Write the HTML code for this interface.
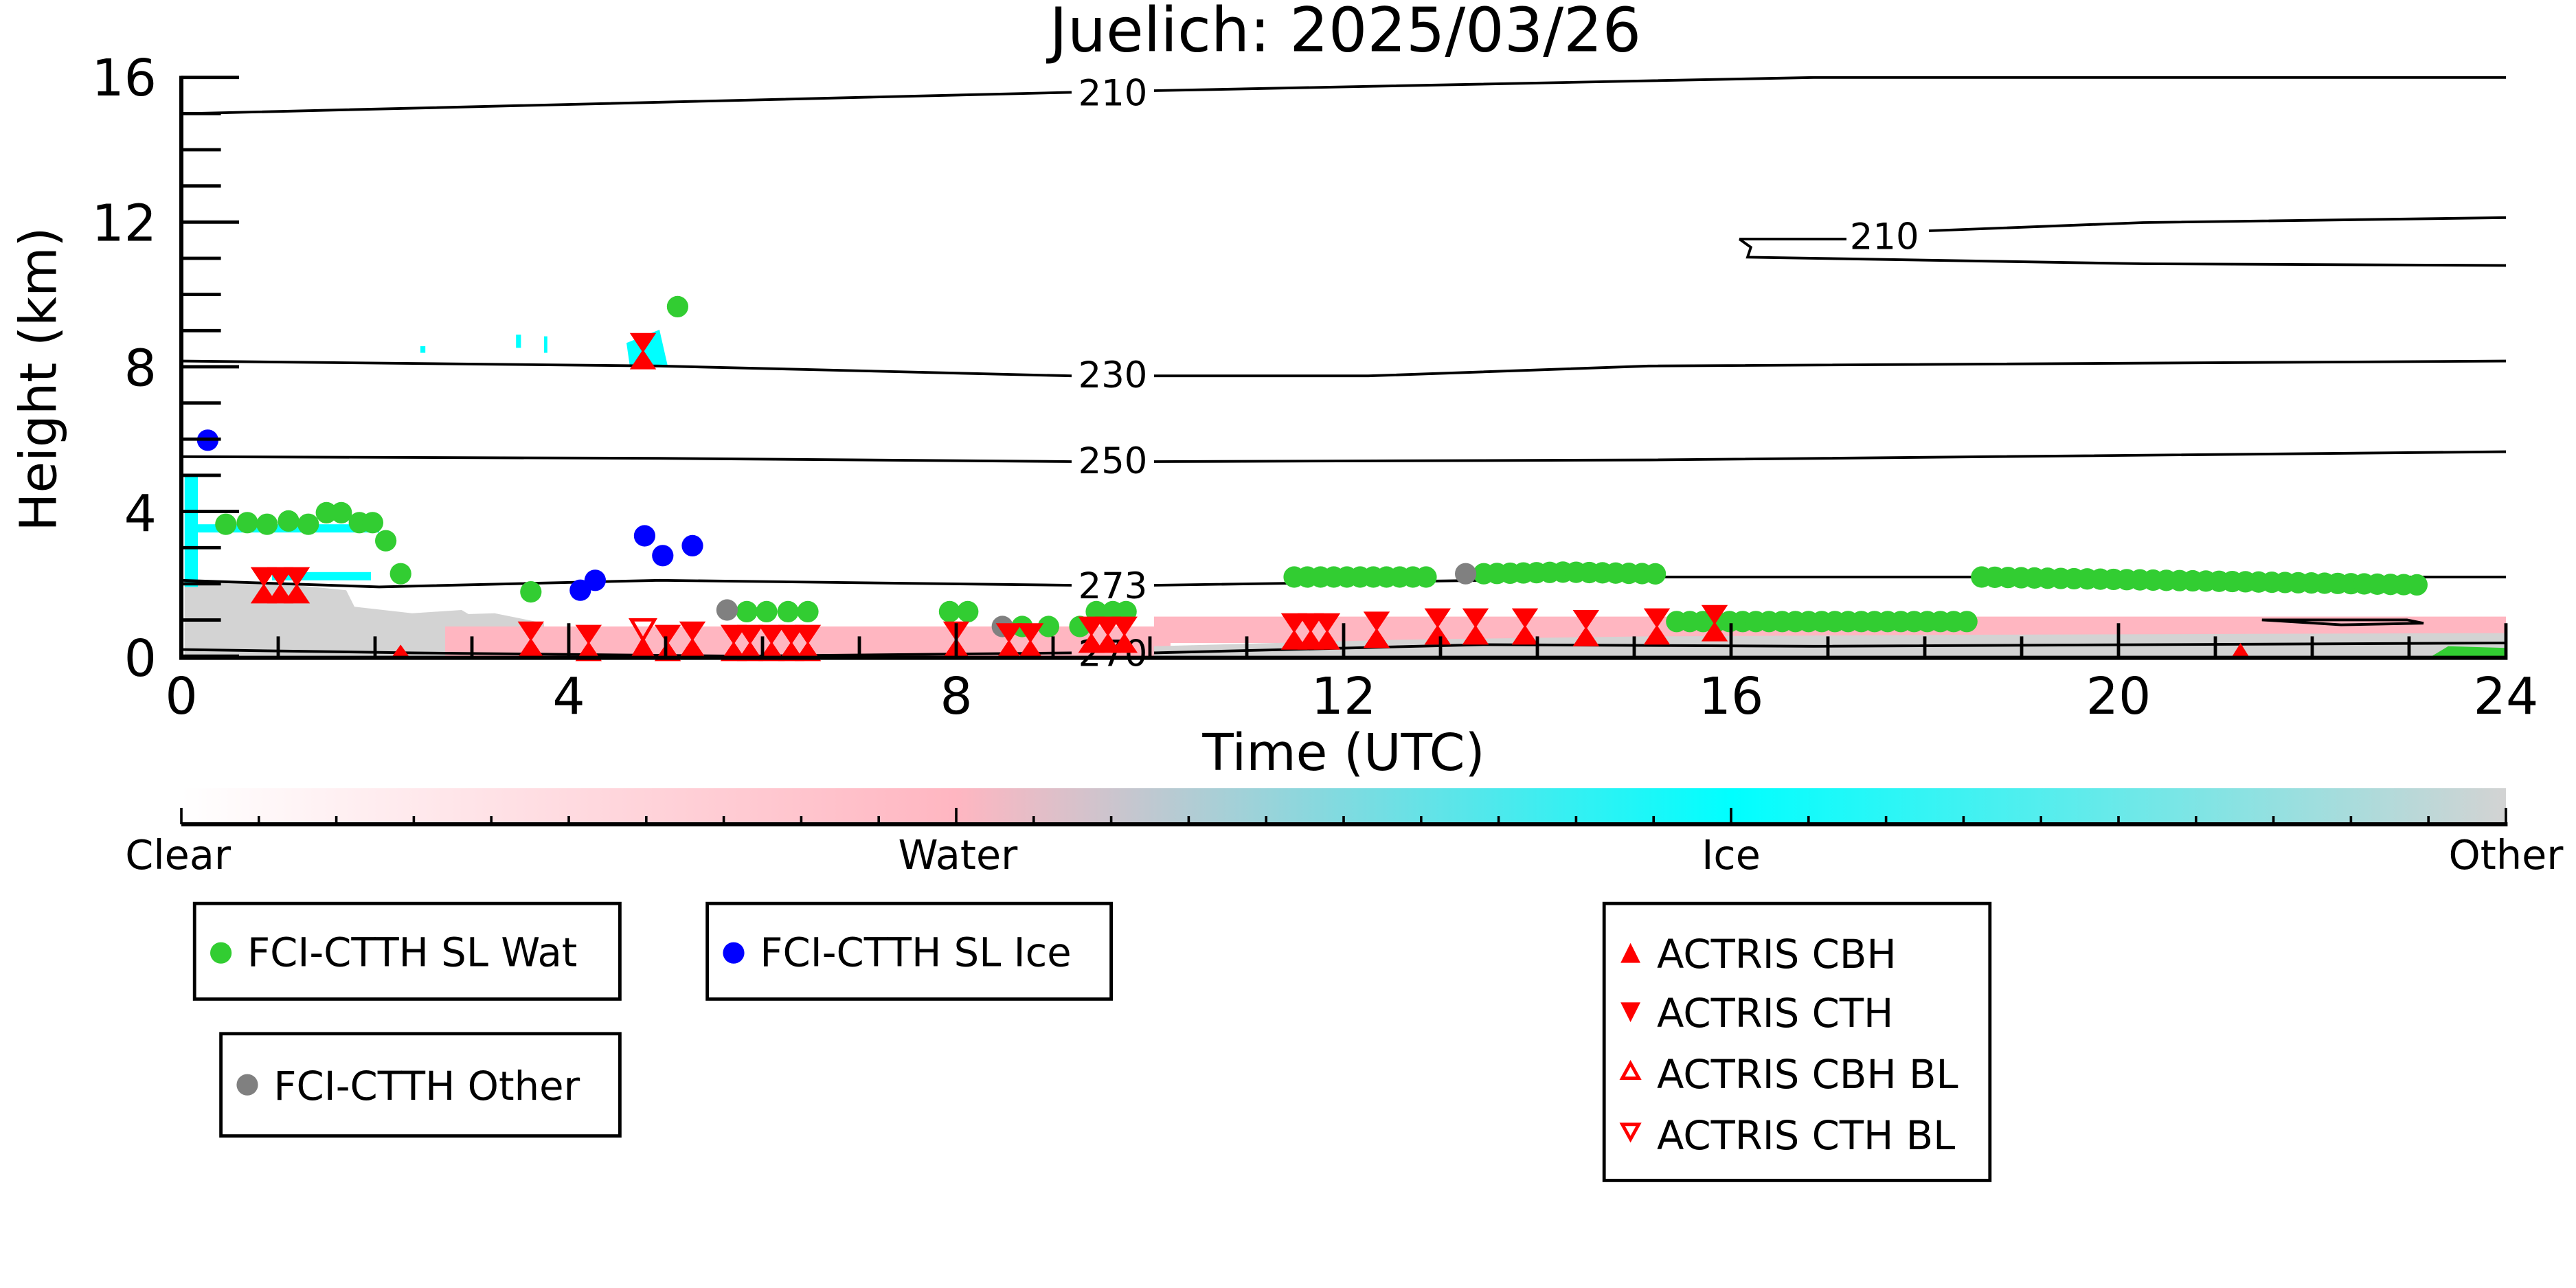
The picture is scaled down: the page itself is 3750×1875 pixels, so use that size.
<!DOCTYPE html>
<html><head><meta charset="utf-8"><style>
html,body{margin:0;padding:0;background:#fff;}
svg{display:block;}
text{font-family:"DejaVu Sans","Liberation Sans",sans-serif;}
</style></head><body>
<svg id="s" width="3750" height="1875" viewBox="0 0 1562.5 781.25" xmlns="http://www.w3.org/2000/svg">
<defs>
<linearGradient id="cb" x1="0" x2="1" y1="0" y2="0">
<stop offset="0" stop-color="#ffffff"/>
<stop offset="0.333" stop-color="#ffb6c1"/>
<stop offset="0.667" stop-color="#00ffff"/>
<stop offset="1" stop-color="#d3d3d3"/>
</linearGradient>
</defs>
<text x="816" y="31" font-size="37" text-anchor="middle">Juelich: 2025/03/26</text>
<g id="bg">
<path d="M112,352 L180,355 L210,358 L215,368 L250,372 L280,370 L290,376 L290,398 L112,398Z" fill="#d3d3d3"/>
<path d="M200,375 L300,372 L330,378 L330,398 L200,398Z" fill="#d3d3d3"/>
<rect x="270" y="380" width="440" height="18" fill="#ffb6c1"/>
<rect x="700" y="374" width="820" height="16" fill="#ffb6c1"/>
<path d="M700,392 L850,388 L1000,386 L1200,385 L1520,384 L1520,398 L700,398Z" fill="#d3d3d3"/>
<rect x="112" y="288" width="8" height="68" fill="#00ffff"/>
<rect x="120" y="318" width="110" height="5" fill="#00ffff"/>
<rect x="165" y="347" width="60" height="5" fill="#00ffff"/>
<path d="M380,208 L400,200 L405,222 L382,222Z" fill="#00ffff"/>
<rect x="255" y="210" width="3" height="4" fill="#00ffff"/>
<rect x="313" y="203" width="3" height="8" fill="#00ffff"/>
<rect x="330" y="204" width="2" height="10" fill="#00ffff"/>
</g>
<g fill="none" stroke="#000" stroke-width="1.6">
<path d="M110,69 L650,56 M700,55 L1100,47 L1520,47"/>
<path d="M1055,145 L1062,150 L1060,156 L1300,160 L1520,161 M1055,145 L1120,145 M1170,140 L1300,135 L1520,132"/>
<path d="M110,219 L400,222 L650,228 M700,228 L830,228 L1000,222 L1520,219"/>
<path d="M110,277 L400,278 L650,280 M700,280 L1000,279 L1520,274"/>
<path d="M110,352 L230,356 L400,352 L650,355 M700,355 L900,352 L1000,350 L1520,350"/>
<path d="M110,394 L250,396 L450,398 L650,396 M700,396 L900,391 L1100,392 L1520,390"/>
<path d="M1372,376 L1460,376 L1470,378 L1420,379 Z"/>
</g>
<g font-size="22" text-anchor="middle">
<text x="675" y="64">210</text>
<text x="1143" y="151">210</text>
<text x="675" y="235">230</text>
<text x="675" y="287">250</text>
<text x="675" y="363">273</text>
<text x="675" y="404">270</text>
</g>
<g id="pts"></g>
<g stroke="#000" stroke-width="2.5" fill="none">
<path d="M110,46 L110,399 L1521,399"/>
</g>
<g id="ticks" stroke="#000" stroke-width="2"></g>
<g font-size="31" text-anchor="end">
<text x="95" y="58">16</text><text x="95" y="146">12</text><text x="95" y="234">8</text><text x="95" y="322">4</text><text x="95" y="410">0</text>
</g>
<g font-size="31" text-anchor="middle">
<text x="110" y="433">0</text><text x="345" y="433">4</text><text x="580" y="433">8</text><text x="815" y="433">12</text><text x="1050" y="433">16</text><text x="1285" y="433">20</text><text x="1520" y="433">24</text>
<text x="815" y="467">Time (UTC)</text>
<text transform="translate(34,230) rotate(-90)">Height (km)</text>
</g>
<rect x="110" y="478" width="1410" height="22" fill="url(#cb)"/>
<g id="cbt" stroke="#000" stroke-width="1.5"></g>
<line x1="110" y1="500" x2="1521" y2="500" stroke="#000" stroke-width="2.5"/>
<g font-size="24.5" text-anchor="middle">
<text x="108" y="527">Clear</text><text x="581" y="527">Water</text><text x="1050" y="527">Ice</text><text x="1520" y="527">Other</text>
</g>
<g fill="none" stroke="#000" stroke-width="2">
<rect x="118" y="548" width="258" height="58"/>
<rect x="429" y="548" width="245" height="58"/>
<rect x="134" y="627" width="242" height="62"/>
<rect x="973" y="548" width="234" height="168"/>
</g>
<g font-size="24">
<circle cx="134" cy="578" r="6.5" fill="#32cd32"/><text x="150" y="586">FCI-CTTH SL Wat</text>
<circle cx="445" cy="578" r="6.5" fill="#0000ff"/><text x="461" y="586">FCI-CTTH SL Ice</text>
<circle cx="150" cy="658" r="6.5" fill="#808080"/><text x="166" y="667">FCI-CTTH Other</text>
<path d="M983,584 L995,584 L989,572Z" fill="#f00"/><text x="1005" y="587">ACTRIS CBH</text>
<path d="M983,608 L995,608 L989,620Z" fill="#f00"/><text x="1005" y="623">ACTRIS CTH</text>
<path d="M984,654 L994,654 L989,645Z" fill="none" stroke="#f00" stroke-width="2"/><text x="1005" y="660">ACTRIS CBH BL</text>
<path d="M984,682 L994,682 L989,691Z" fill="none" stroke="#f00" stroke-width="2"/><text x="1005" y="697">ACTRIS CTH BL</text>
</g>
<script>
(function(){
var NS="http://www.w3.org/2000/svg";
function el(p,t,a){var e=document.createElementNS(NS,t);for(var k in a)e.setAttribute(k,a[k]);document.getElementById(p).appendChild(e);}
for(var i=0;i<=16;i++){var y=398-i*21.94;var L=(i%4==0)?35:24;el("ticks","line",{x1:110,y1:y,x2:110+L,y2:y});}
for(var h=0;h<=24;h++){var x=110+h*58.75;var L=(h%4==0)?20:12;el("ticks","line",{x1:x,y1:398,x2:x,y2:398-L});}
for(var j=0;j<=30;j++){var x=110+j*47;var L=(j%10==0)?10:5;el("cbt","line",{x1:x,y1:500,x2:x,y2:500-L});}
var G="#32cd32";
function c(x,y,col){el("pts","ellipse",{cx:x,cy:y,rx:6.5,ry:6.5,fill:col});}
function hg(x,y,hol){
 if(hol){el("pts","path",{d:"M"+(x-7)+","+(y-12)+" L"+(x+7)+","+(y-12)+" L"+x+","+y+"Z",fill:"none",stroke:"#f00","stroke-width":2});
 el("pts","path",{d:"M"+(x-7)+","+(y+10)+" L"+(x+7)+","+(y+10)+" L"+x+","+(y-2)+"Z",fill:"#f00"});return;}
 el("pts","path",{d:"M"+(x-8)+","+(y-11)+" L"+(x+8)+","+(y-11)+" L"+x+","+(y+1)+"Z",fill:"#f00"});
 el("pts","path",{d:"M"+(x-8)+","+(y+11)+" L"+(x+8)+","+(y+11)+" L"+x+","+(y-1)+"Z",fill:"#f00"});
}
[[137,318],[150,317],[162,318],[175,316],[187,318],[198,311],[207,311],[218,317],[226,317],[234,328],[243,348],[322,359],[411,186],[453,371],[465,371],[478,371],[490,371],[576,371],[587,371],[620,380],[636,380],[655,380],[665,371],[675,371],[683,371]].forEach(function(p){c(p[0],p[1],G);});
for(var x=785;x<=870;x+=8)c(x,350,G);
for(var x=900;x<=1010;x+=8)c(x,347+Math.abs(x-950)*0.02,G);
for(var x=1017;x<=1195;x+=8)c(x,377,G);
for(var x=1202;x<=1468;x+=8)c(x,350+(x-1202)*0.018,G);
el("pts","path",{d:"M1475,398 L1520,398 L1520,393 L1485,392Z",fill:G});
c(441,370,"#808080");c(608,380,"#808080");c(889,348,"#808080");
[[126,267],[352,358],[361,352],[391,325],[402,337],[420,331]].forEach(function(p){c(p[0],p[1],"#0000ff");});
[[160,355],[170,355],[180,355],[390,213],[322,388],[357,390],[405,390],[420,388],[445,390],[455,390],[468,390],[480,390],[490,390],[580,388],[612,389],[625,389],[662,385],[672,385],[682,385],[785,383],[795,383],[805,383],[835,382],[872,380],[895,380],[925,380],[962,381],[1005,380],[1040,378]].forEach(function(p){hg(p[0],p[1],false);});
hg(390,388,true);
el("pts","path",{d:"M1354,398 L1364,398 L1359,390Z",fill:"#f00"});
el("pts","path",{d:"M238,398 L248,398 L243,391Z",fill:"#f00"});
})();
</script>
</svg>
</body></html>
